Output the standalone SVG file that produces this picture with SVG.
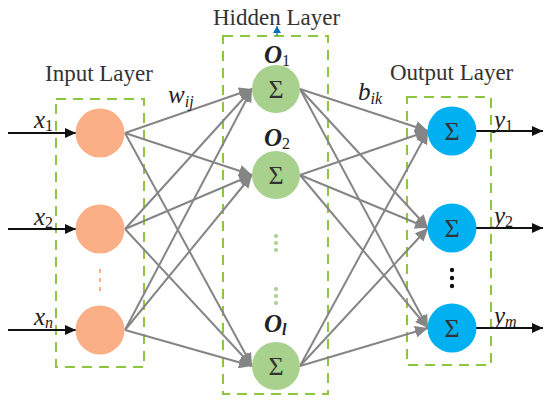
<svg xmlns="http://www.w3.org/2000/svg" width="550" height="401" viewBox="0 0 550 401">
<defs>
<style>
.lbl{font-family:"Liberation Serif","DejaVu Serif",serif;font-size:23px;fill:#333}
.var{font-family:"Liberation Serif","DejaVu Serif",serif;font-size:25px;font-style:italic;fill:#222}
.sub{font-size:16px}
.n{font-style:normal}
.box{fill:none;stroke:#8DC63F;stroke-width:2;stroke-dasharray:10,7}
.in{fill:#FBAF87}
.hid{fill:#A9D18E}
.out{fill:#00B0F0}
.sig{font-family:"Liberation Serif","DejaVu Serif",serif;font-size:26px;fill:#333;text-anchor:middle}
.g{stroke:#858585;stroke-width:2;fill:none;marker-end:url(#ga)}
.k{stroke:#111;stroke-width:2;fill:none;marker-end:url(#ka)}
</style>
<marker id="ga" markerUnits="userSpaceOnUse" markerWidth="14" markerHeight="12" refX="13" refY="6" orient="auto"><path d="M0,0 L13,6 L0,12 z" fill="#858585"/></marker>
<marker id="ka" markerUnits="userSpaceOnUse" markerWidth="12" markerHeight="10" refX="11" refY="5" orient="auto"><path d="M0,0 L11,5 L0,10 z" fill="#111"/></marker>
<marker id="ba" markerUnits="userSpaceOnUse" markerWidth="8" markerHeight="8" refX="7" refY="4" orient="auto"><path d="M0,0 L7,4 L0,8 z" fill="#0070C0"/></marker>
</defs>
<rect width="550" height="401" fill="#fff"/>

<g id="boxes">
<rect class="box" x="56" y="99" width="88" height="268"/>
<rect class="box" x="223" y="36" width="105" height="358"/>
<rect class="box" x="407" y="97" width="84" height="268"/>
</g>

<g id="titles">
<text class="lbl" x="45" y="81">Input Layer</text>
<text class="lbl" x="213" y="25">Hidden Layer</text>
<text class="lbl" x="390" y="80">Output Layer</text>
<line x1="277" y1="36" x2="277" y2="26" stroke="#0070C0" stroke-width="1.2" marker-end="url(#ba)"/>
</g>

<g id="connectors">
<line class="g" x1="125" y1="133" x2="252" y2="89"/>
<line class="g" x1="125" y1="133" x2="252" y2="175"/>
<line class="g" x1="125" y1="133" x2="252" y2="366"/>
<line class="g" x1="125" y1="229" x2="252" y2="89"/>
<line class="g" x1="125" y1="229" x2="252" y2="175"/>
<line class="g" x1="125" y1="229" x2="252" y2="366"/>
<line class="g" x1="125" y1="330" x2="252" y2="89"/>
<line class="g" x1="125" y1="330" x2="252" y2="175"/>
<line class="g" x1="125" y1="330" x2="252" y2="366"/>
<line class="g" x1="300" y1="89" x2="428" y2="131"/>
<line class="g" x1="300" y1="89" x2="428" y2="228"/>
<line class="g" x1="300" y1="89" x2="428" y2="328"/>
<line class="g" x1="300" y1="175" x2="428" y2="131"/>
<line class="g" x1="300" y1="175" x2="428" y2="228"/>
<line class="g" x1="300" y1="175" x2="428" y2="328"/>
<line class="g" x1="300" y1="366" x2="428" y2="131"/>
<line class="g" x1="300" y1="366" x2="428" y2="228"/>
<line class="g" x1="300" y1="366" x2="428" y2="328"/>
<line class="k" x1="8" y1="133" x2="76" y2="133"/>
<line class="k" x1="8" y1="229" x2="76" y2="229"/>
<line class="k" x1="8" y1="330" x2="76" y2="330"/>
<line class="k" x1="476" y1="131" x2="543" y2="131"/>
<line class="k" x1="476" y1="228" x2="543" y2="228"/>
<line class="k" x1="476" y1="328" x2="543" y2="328"/>
</g>

<g id="weights">
<text class="var" x="168" y="103">w<tspan class="sub" dy="4">ij</tspan></text>
<text class="var" x="358" y="100">b<tspan class="sub" dy="4">ik</tspan></text>
</g>

<g id="input-1"><circle class="in" cx="100" cy="133" r="24.5"/><text class="var" x="34" y="128">x<tspan class="sub n" dy="3">1</tspan></text></g>
<g id="input-2"><circle class="in" cx="100" cy="229" r="24.5"/><text class="var" x="34" y="225">x<tspan class="sub n" dy="3">2</tspan></text></g>
<g id="input-dots" fill="#FBAF87"><rect x="99" y="269" width="2" height="4"/><rect x="99" y="278" width="2" height="4"/><rect x="99" y="287" width="2" height="4"/></g>
<g id="input-n"><circle class="in" cx="100" cy="330" r="24.5"/><text class="var" x="34" y="325">x<tspan class="sub" dy="3">n</tspan></text></g>

<g id="hidden-1"><circle class="hid" cx="276" cy="89" r="24"/><text class="sig" x="276" y="98">Σ</text><text class="var" x="264" y="63" font-weight="bold">O<tspan class="sub n" dy="3" font-weight="normal">1</tspan></text></g>
<g id="hidden-2"><circle class="hid" cx="276" cy="175" r="24"/><text class="sig" x="276" y="184">Σ</text><text class="var" x="264" y="146" font-weight="bold">O<tspan class="sub n" dy="3" font-weight="normal">2</tspan></text></g>
<g id="hidden-dots" fill="#A9D18E"><circle cx="276" cy="236" r="2"/><circle cx="276" cy="243" r="2"/><circle cx="276" cy="250" r="2"/><circle cx="276" cy="289" r="2"/><circle cx="276" cy="296" r="2"/><circle cx="276" cy="303" r="2"/></g>
<g id="hidden-l"><circle class="hid" cx="276" cy="366" r="24"/><text class="sig" x="276" y="375">Σ</text><text class="var" x="264" y="332" font-weight="bold">O<tspan class="sub" dy="3">l</tspan></text></g>

<g id="output-1"><circle class="out" cx="452" cy="131" r="24.5"/><text class="sig" x="452" y="140">Σ</text><text class="var" x="494" y="128">y<tspan class="sub n" dy="3">1</tspan></text></g>
<g id="output-2"><circle class="out" cx="452" cy="228" r="24.5"/><text class="sig" x="452" y="237">Σ</text><text class="var" x="494" y="224">y<tspan class="sub n" dy="3">2</tspan></text></g>
<g id="output-dots" fill="#111"><circle cx="452" cy="270" r="2.2"/><circle cx="452" cy="278" r="2.2"/><circle cx="452" cy="286" r="2.2"/></g>
<g id="output-m"><circle class="out" cx="452" cy="328" r="24.5"/><text class="sig" x="452" y="337">Σ</text><text class="var" x="494" y="324">y<tspan class="sub" dy="3">m</tspan></text></g>
</svg>
